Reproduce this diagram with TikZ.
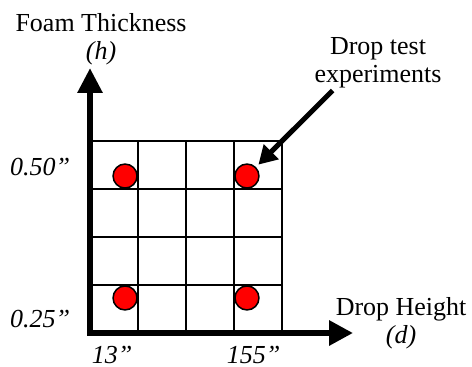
\documentclass[tikz,border=0pt]{standalone}
\usepackage{fontspec}
\setmainfont{Liberation Serif}
\usetikzlibrary{arrows.meta}

\begin{document}
\begin{tikzpicture}[
  x=1cm,
  y=1cm,
  font=\fontsize{15.4}{16.6}\selectfont,
  axis/.style={draw=black,line width=3.5pt,{Triangle[length=0.52cm,width=0.5cm]}-{Triangle[length=0.5cm,width=0.5cm]}},
  gridline/.style={draw=black,line width=1.7pt},
  testpt/.style={circle,draw=black,fill=red,line width=0.9pt,minimum size=0.5cm,inner sep=0pt},
  axistitle/.style={align=center,anchor=base,inner sep=1pt},
  tick/.style={font=\fontsize{15.4}{16.6}\selectfont\itshape,anchor=base,inner sep=1pt},
  pointer/.style={draw=black,line width=3pt,-{Triangle[length=0.38cm,width=0.42cm]}}
]
\useasboundingbox (-1.875,-0.708) rectangle (7.958,6.9375);

% Test grid
\draw[gridline] (0,0) grid (4,4);

% Axes
\coordinate (origin) at (0,0);
\coordinate (htip) at (0,5.52);
\coordinate (dtip) at (5.48,0);
\draw[axis] (htip) -- (origin) -- (dtip);

% Axis titles (base = last line)
\node[axistitle] (hname) at (0.23,5.69) {Foam Thickness\\\textit{(h)}};
\node[axistitle] (dname) at (6.48,-0.21) {Drop Height\\\textit{(d)}};

% Tick labels
\node[tick] (h1) at (-1.04,0.11) {0.25”};
\node[tick] (h2) at (-1.04,3.29) {0.50”};
\node[tick] (d1) at (0.46,-0.64) {13”};
\node[tick] (d2) at (3.41,-0.64) {155”};

% Test points
\node[testpt] (dot11) at (0.73,0.73) {};
\node[testpt] (dot21) at (3.27,0.73) {};
\node[testpt] (dot12) at (0.73,3.27) {};
\node[testpt] (dot22) at (3.27,3.27) {};

% Callout
\node[axistitle] (note) at (6.0,5.21) {Drop test\\experiments};
\draw[pointer,shorten >=2pt] ([xshift=0.42cm]note.south west) -- (dot22);

\end{tikzpicture}
\end{document}
